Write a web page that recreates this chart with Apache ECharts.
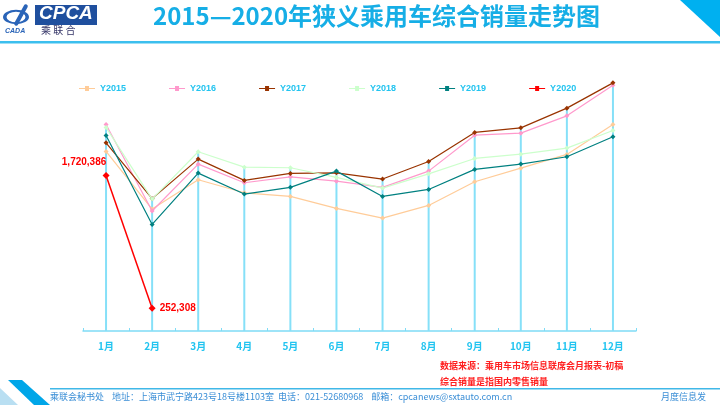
<!DOCTYPE html>
<html><head><meta charset="utf-8">
<script src="https://cdn.jsdelivr.net/npm/echarts@6/dist/echarts.min.js"></script>
<style>html,body{margin:0;padding:0;background:#fff}#c{width:720px;height:405px}</style>
</head><body><div id="c"></div>
<script>
var months = ['1月','2月','3月','4月','5月','6月','7月','8月','9月','10月','11月','12月'];
var y2015 = [1988000,1350000,1674000,1530000,1490000,1357000,1250000,1390000,1652000,1803000,1955000,2287000];
var y2016 = [2287000,1328000,1847000,1641000,1707000,1659000,1590000,1770000,2168000,2190000,2382000,2721000];
var y2017 = [2083000,1465000,1903000,1667000,1744000,1751000,1682000,1877000,2198000,2249000,2467000,2747000];
var y2018 = [2254000,1460000,1984000,1814000,1807000,1700000,1582000,1740000,1910000,1958000,2025000,2220000];
var y2019 = [2165000,1180000,1748000,1516000,1590000,1770000,1490000,1567000,1789000,1848000,1929000,2150000];
var y2020 = [1720386,252308,null,null,null,null,null,null,null,null,null,null];
var seriesNames = ['Y2015','Y2016','Y2017','Y2018','Y2019','Y2020'];
var seriesColors = ['#ffcc99','#ff99cc','#993300','#ccffcc','#008080','#ff0000'];
var allSeries = [y2015,y2016,y2017,y2018,y2019,y2020];
var noteLines = ['数据来源：乘用车市场信息联席会月报表-初稿','综合销量是指国内零售销量'];
var footerText = '乘联会秘书处    地址：上海市武宁路423号18号楼1103室  电话：021-52680968    邮箱：cpcanews@sxtauto.com.cn';

var maxPerMonth = months.map(function(m,i){
  var mx = 0;
  allSeries.forEach(function(s){ if (s[i] != null && s[i] > mx) mx = s[i]; });
  return mx;
});
var fmt = function(v){ return v.toString().replace(/\B(?=(\d{3})+(?!\d))/g, ','); };

var chart = echarts.init(document.getElementById('c'));
var lineSeries = seriesNames.map(function(n, k){
  var s = {
    name: n, type: 'line', data: allSeries[k],
    symbol: 'diamond', symbolSize: k === 5 ? 7 : 5,
    lineStyle: { color: seriesColors[k], width: k === 5 ? 1.5 : 1.2 },
    itemStyle: { color: seriesColors[k] },
    z: 3 + k,
    connectNulls: false,
    animation: false
  };
  if (k === 5) {
    s.label = {
      show: true,
      color: '#ff0000', fontWeight: 'bold', fontSize: 10, fontFamily: 'Liberation Sans',
      formatter: function(p){ return fmt(p.value); },
      position: 'right', distance: 4
    };
    s.data = allSeries[k].map(function(v, i){
      if (v == null) return null;
      if (i === 0) return { value: v, label: { position: 'top', offset: [-22, -1] } };
      return v;
    });
  }
  return s;
});

var option = {
  animation: false,
  legend: {
    data: seriesNames.map(function(n){ return { name: n, icon: 'path://M0,4.4 L16,4.4 L16,5.6 L0,5.6 Z M6,2.5 L10,2.5 L10,7.5 L6,7.5 Z' }; }),
    top: 79, left: 74, itemGap: 43, itemWidth: 16, itemHeight: 6,
    textStyle: { color: '#22c4f0', fontWeight: 'bold', fontSize: 9, fontFamily: 'Liberation Sans' },
    selectedMode: false
  },
  grid: { left: 83, right: 84, top: 60, bottom: 74 },
  xAxis: {
    type: 'category', data: months, boundaryGap: true,
    axisLine: { lineStyle: { color: '#7fdcf6', width: 1.5 } },
    axisTick: { show: true, inside: true, length: 3, alignWithLabel: false, lineStyle: { color: '#7fdcf6' } },
    axisLabel: { color: '#22c4f0', fontWeight: 'bold', fontSize: 10, margin: 10, fontFamily: 'Noto Sans CJK SC' }
  },
  yAxis: { type: 'value', min: 0, max: 3000000, show: false, splitLine: { show: false } },
  series: [{
    name: 'drop', type: 'bar', data: maxPerMonth, barWidth: 2,
    itemStyle: { color: '#86e0f8' }, silent: true, z: 1, legendHoverLink: false
  }].concat(lineSeries),
  graphic: [
    { type: 'text', left: 153, top: 4, style: { text: '2015—2020年狭义乘用车综合销量走势图', fill: '#16aee6', font: 'bold 24px "Noto Sans CJK SC"' } },
    { type: 'rect', shape: { x: 0, y: 41, width: 720, height: 2.5 }, style: { fill: '#3cbfee' } },
    { type: 'polygon', shape: { points: [[680,0],[720,0],[720,37]] }, style: { fill: '#00b0f0' } },
    // logo
    { type: 'ring', shape: { cx: 16, cy: 17, r: 13, r0: 9.5 }, scaleY: 0.55, originY: 17, style: { fill: '#2a64b8' } },
    { type: 'rect', shape: { x: 19, y: 3, width: 4, height: 24, r: 2 }, rotation: -0.5, originX: 21, originY: 15, style: { fill: '#2a64b8' } },
    { type: 'text', left: 5, top: 28, style: { text: 'CADA', fill: '#2a64b8', font: 'italic bold 7px "Liberation Sans"' } },
    { type: 'rect', shape: { x: 35, y: 5, width: 62, height: 20 }, style: { fill: '#1f4f9e' } },
    { type: 'text', left: 39, top: 4, style: { text: 'CPCA', fill: '#ffffff', font: 'italic bold 19px "Liberation Sans"' } },
    { type: 'text', left: 41, top: 25, style: { text: '乘 联 合', fill: '#333366', font: '10px "Noto Sans CJK SC"' } },
    // notes
    { type: 'text', left: 440, top: 361, style: { text: noteLines[0], fill: '#ff2020', font: 'bold 9px "Noto Sans CJK SC"' } },
    { type: 'text', left: 440, top: 377, style: { text: noteLines[1], fill: '#ff2020', font: 'bold 9px "Noto Sans CJK SC"' } },
    // footer
    { type: 'rect', shape: { x: 50, y: 388, width: 670, height: 1.5 }, style: { fill: '#40b8e8' } },
    { type: 'polygon', shape: { points: [[0,388],[0,405],[18,405]] }, style: { fill: '#b9dff2' } },
    { type: 'polygon', shape: { points: [[8,380],[22,380],[50,405],[34,405]] }, style: { fill: '#00a6e8' } },
    { type: 'text', left: 50, top: 392, style: { text: footerText, fill: '#3a8ed6', font: '9px "Noto Sans CJK SC"' } },
    { type: 'text', left: 661, top: 392, style: { text: '月度信息发', fill: '#3a8ed6', font: '9px "Noto Sans CJK SC"' } }
  ]
};
chart.setOption(option);
</script></body></html>
